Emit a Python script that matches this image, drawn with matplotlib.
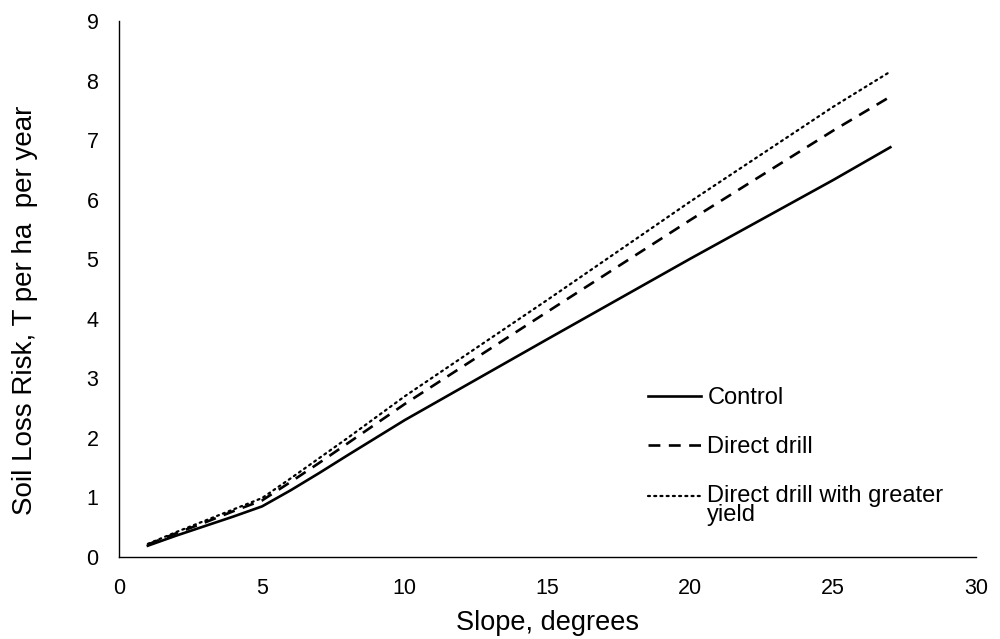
import matplotlib
matplotlib.use("Agg")
import matplotlib.pyplot as plt
import numpy as np
from matplotlib.legend_handler import HandlerLine2D

slope_deg = [1, 2, 3, 4, 5, 6, 7, 8, 10, 15, 20, 25, 27]
control = [0.19, 0.36, 0.52, 0.68, 0.85, 1.12, 1.41, 1.71, 2.30, 3.66, 5.01, 6.33, 6.88]
direct_drill = [0.21, 0.40, 0.58, 0.77, 0.95, 1.26, 1.58, 1.91, 2.57, 4.12, 5.66, 7.16, 7.73]
direct_drill_yield = [0.22, 0.42, 0.61, 0.80, 0.99, 1.32, 1.66, 2.00, 2.70, 4.32, 5.97, 7.56, 8.15]

series_labels = ["Control", "Direct drill", "Direct drill with greater\nyield"]
x_ticks = [0, 5, 10, 15, 20, 25, 30]
y_ticks = [0, 1, 2, 3, 4, 5, 6, 7, 8, 9]

plt.rcParams['font.family'] = ['Liberation Sans', 'DejaVu Sans']


class ShiftedLineHandler(HandlerLine2D):
    def __init__(self, dy, **kw):
        super().__init__(**kw)
        self.dy = dy

    def create_artists(self, legend, orig_handle, xdescent, ydescent, width, height, fontsize, trans):
        arts = super().create_artists(legend, orig_handle, xdescent, ydescent, width, height, fontsize, trans)
        for a in arts:
            a.set_ydata(np.asarray(a.get_ydata(), dtype=float) + self.dy)
        return arts


W, H = 1000, 639
fig = plt.figure(figsize=(W / 100, H / 100), dpi=100)
ax = fig.add_axes([0.1193, 1 - 557 / H, 0.976 - 0.1193, (557 - 21) / H])

l1, = ax.plot(slope_deg, control, color='black', lw=1.9, linestyle='-', label=series_labels[0])
l2, = ax.plot(slope_deg, direct_drill, color='black', lw=1.9, linestyle=(0, (4.5, 3.2)), label=series_labels[1])
l3, = ax.plot(slope_deg, direct_drill_yield, color='black', lw=1.6, linestyle=(0, (0.9, 1.9)),
              dash_capstyle='round', label=series_labels[2])

ax.set_xlim(0, 30)
ax.set_ylim(0, 9)
ax.set_xticks(x_ticks)
ax.set_yticks(y_ticks)
ax.tick_params(axis='both', length=0, labelsize=15.5, colors='black')
ax.tick_params(axis='x', pad=15)
ax.tick_params(axis='y', pad=15)
for s in ['top', 'right']:
    ax.spines[s].set_visible(False)
for s in ['left', 'bottom']:
    ax.spines[s].set_color('#000000')
    ax.spines[s].set_linewidth(1.0)

ax.set_xlabel("Slope, degrees", fontsize=19.5, color='black', labelpad=8)
ax.set_ylabel("Soil Loss Risk, T per ha  per year", fontsize=20, color='black')
ax.yaxis.set_label_coords((38 - 119.3) / 856.7, (557 - 310) / 536)

leg = ax.legend(handles=[l1, l2, l3], loc='upper left', bbox_to_anchor=(648 / W, 1 - 387 / H),
                bbox_transform=fig.transFigure,
                frameon=False, fontsize=17, handlelength=2.25, handletextpad=0.26,
                labelspacing=1.15, borderpad=0, borderaxespad=0,
                handler_map={l3: ShiftedLineHandler(dy=7.2)})
for t in leg.get_texts():
    t.set_linespacing(0.82)

fig.savefig("out.png", dpi=100)
